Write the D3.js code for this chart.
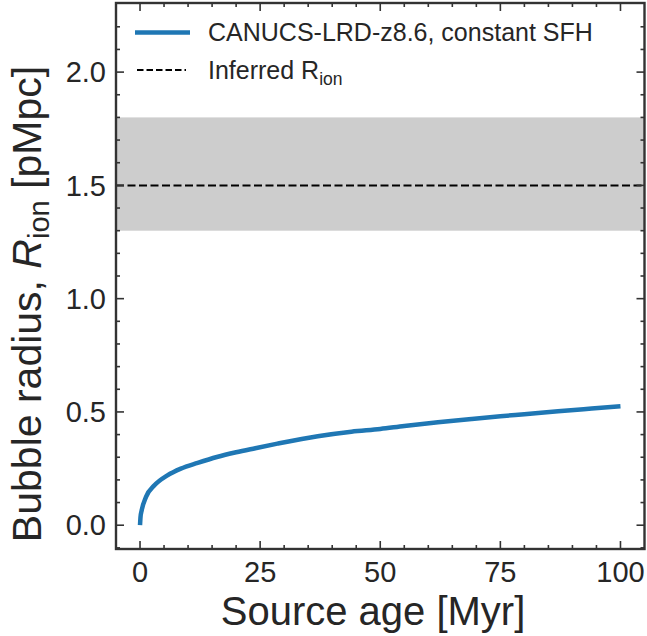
<!DOCTYPE html>
<html>
<head>
<meta charset="utf-8">
<script src="https://cdn.jsdelivr.net/npm/d3@7"></script>
<style>
html,body{margin:0;padding:0;background:#fff;}
svg{display:block;}
text{font-family:"Liberation Sans", Arial, sans-serif; fill:#262626;}
</style>
</head>
<body>
<svg id="chart" width="647" height="636"></svg>
<script>
// Data
const ageMyr = [0, 0.1, 0.35, 1.25, 3, 5.7, 8.5, 12, 16, 20, 24, 28.6, 37, 44, 50, 55, 62, 69, 75, 80, 87, 94, 100];
const radiusPMpc = [0, 0.035, 0.066, 0.125, 0.176, 0.22, 0.25, 0.275, 0.301, 0.322, 0.34, 0.36, 0.393, 0.413, 0.425, 0.438, 0.454, 0.469, 0.481, 0.49, 0.503, 0.515, 0.525];
const inferredR = 1.5;
const inferredBand = [1.3, 1.8];
const xTicks = [0, 25, 50, 75, 100];
const yTicks = [0.0, 0.5, 1.0, 1.5, 2.0];
const seriesLabel = "CANUCS-LRD-z8.6, constant SFH";

const svg = d3.select("#chart");
const L = 116, R = 644.5, T = 3, B = 549;
const x = d3.scaleLinear().domain([-5, 105]).range([L, R]);
const y = d3.scaleLinear().domain([-0.105, 2.305]).range([B, T]);
const axisColor = "#333333";

// band
svg.append("rect")
  .attr("x", L).attr("width", R - L)
  .attr("y", y(inferredBand[1])).attr("height", y(inferredBand[0]) - y(inferredBand[1]))
  .attr("fill", "#cdcdcd");

// dashed line
svg.append("line")
  .attr("x1", L).attr("x2", R)
  .attr("y1", y(inferredR)).attr("y2", y(inferredR))
  .attr("stroke", "#000").attr("stroke-width", 2)
  .attr("stroke-dasharray", "8,3.5");

// curve
const data = ageMyr.map((a, i) => [a, radiusPMpc[i]]);
svg.append("path")
  .datum(data)
  .attr("fill", "none")
  .attr("stroke", "#1f77b4")
  .attr("stroke-width", 4.5)
  .attr("stroke-linecap", "butt")
  .attr("d", d3.line().x(d => x(d[0])).y(d => y(d[1])).curve(d3.curveMonotoneX));

// ticks
const xMinor = d3.range(0, 101, 5).filter(v => v % 25 !== 0);
const yMinor = d3.range(-1, 23).map(v => v / 10).filter(v => Math.round(v * 10) % 5 !== 0 && v >= -0.1 && v <= 2.3);
const tg = svg.append("g").attr("stroke", axisColor).attr("stroke-width", 1.6);
const majLen = 8, minLen = 4;
xTicks.forEach(v => {
  tg.append("line").attr("x1", x(v)).attr("x2", x(v)).attr("y1", B).attr("y2", B - majLen);
  tg.append("line").attr("x1", x(v)).attr("x2", x(v)).attr("y1", T).attr("y2", T + majLen);
});
xMinor.forEach(v => {
  tg.append("line").attr("x1", x(v)).attr("x2", x(v)).attr("y1", B).attr("y2", B - minLen);
  tg.append("line").attr("x1", x(v)).attr("x2", x(v)).attr("y1", T).attr("y2", T + minLen);
});
yTicks.forEach(v => {
  tg.append("line").attr("y1", y(v)).attr("y2", y(v)).attr("x1", L).attr("x2", L + majLen);
  tg.append("line").attr("y1", y(v)).attr("y2", y(v)).attr("x1", R).attr("x2", R - majLen);
});
yMinor.forEach(v => {
  tg.append("line").attr("y1", y(v)).attr("y2", y(v)).attr("x1", L).attr("x2", L + minLen);
  tg.append("line").attr("y1", y(v)).attr("y2", y(v)).attr("x1", R).attr("x2", R - minLen);
});

// frame
svg.append("rect").attr("x", L).attr("y", T).attr("width", R - L).attr("height", B - T)
  .attr("fill", "none").attr("stroke", axisColor).attr("stroke-width", 2.4);

// tick labels
const tickFont = 29;
svg.append("g").selectAll("text").data(xTicks).join("text")
  .attr("x", d => x(d)).attr("y", 582)
  .attr("text-anchor", "middle").attr("font-size", tickFont)
  .text(d => d3.format("d")(d));
svg.append("g").selectAll("text").data(yTicks).join("text")
  .attr("x", 106).attr("y", d => y(d)).attr("dy", "0.35em")
  .attr("text-anchor", "end").attr("font-size", tickFont)
  .text(d => d3.format(".1f")(d));

// axis labels
svg.append("text").attr("x", 373).attr("y", 625)
  .attr("text-anchor", "middle").attr("font-size", 40)
  .text("Source age [Myr]");
const yl = svg.append("text")
  .attr("transform", "translate(41,304) rotate(-90)")
  .attr("text-anchor", "middle").attr("font-size", 41);
yl.append("tspan").text("Bubble radius, ");
yl.append("tspan").attr("font-style", "italic").text("R");
yl.append("tspan").attr("font-size", 29).attr("dy", 8).text("ion");
yl.append("tspan").attr("dy", -8).text(" [pMpc]");

// legend
const lg = svg.append("g");
lg.append("line").attr("x1", 135).attr("x2", 190).attr("y1", 32.5).attr("y2", 32.5)
  .attr("stroke", "#1f77b4").attr("stroke-width", 4.5);
lg.append("text").attr("x", 208).attr("y", 32.5).attr("dy", "0.35em")
  .attr("font-size", 25).text(seriesLabel);
lg.append("line").attr("x1", 137).attr("x2", 186).attr("y1", 70).attr("y2", 70)
  .attr("stroke", "#000").attr("stroke-width", 2).attr("stroke-dasharray", "6.5,3");
const l2 = lg.append("text").attr("x", 208).attr("y", 70).attr("dy", "0.35em").attr("font-size", 25);
l2.append("tspan").text("Inferred R");
l2.append("tspan").attr("font-size", 17.5).attr("dy", 6).text("ion");
</script>
</body>
</html>
